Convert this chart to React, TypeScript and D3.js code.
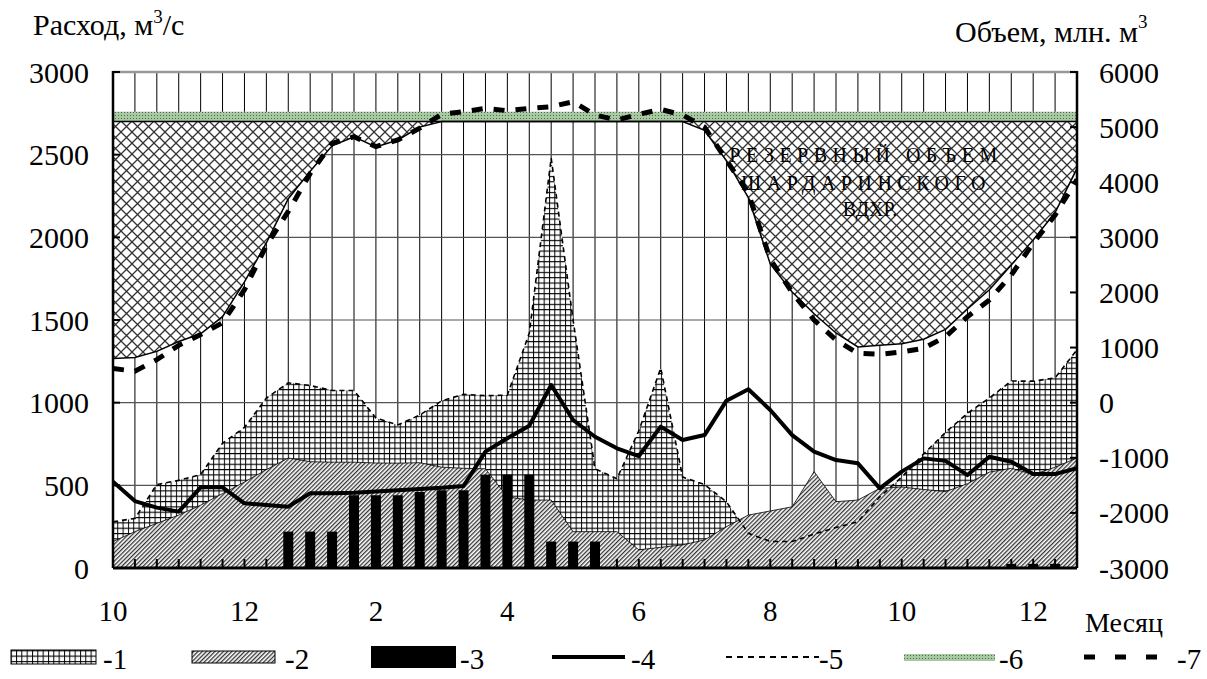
import React from "react";
import * as d3 from "d3";

// decade index 0..44 (Oct, 1st decade -> Dec of next year, 3rd decade)
const monthLabels = ["10", "12", "2", "4", "6", "8", "10", "12"];
const monthDecade = [0, 6, 12, 18, 24, 30, 36, 42];

// 1 - inflow (m3/s)
const inflow = [280, 300, 505, 530, 565, 755, 850, 1028, 1120, 1104, 1074, 1074, 907, 865, 925, 1011, 1051, 1042, 1046, 1420, 2480, 1500, 600, 540, 830, 1210, 550, 505, 400, 210, 160, 160, 205, 245, 280, 430, 550, 690, 820, 936, 1028, 1131, 1130, 1150, 1320];
// 2 - hatched flow (m3/s)
const flow2 = [160, 220, 270, 320, 380, 450, 520, 595, 665, 643, 640, 640, 635, 634, 637, 610, 603, 600, 430, 411, 411, 220, 220, 220, 110, 125, 140, 170, 250, 320, 345, 370, 583, 401, 411, 482, 490, 475, 462, 510, 580, 603, 565, 610, 665];
// 3 - bars (m3/s)
const bars = [0, 0, 0, 0, 0, 0, 0, 0, 220, 220, 220, 440, 440, 440, 460, 470, 470, 565, 565, 565, 160, 160, 160, 0, 0, 0, 0, 0, 0, 0, 0, 0, 0, 0, 0, 0, 0, 0, 0, 0, 0, 25, 25, 25, 0];
// 4 - release (m3/s)
const release = [522, 405, 365, 341, 488, 488, 391, 381, 371, 452, 452, 455, 462, 470, 478, 485, 496, 704, 785, 860, 1107, 895, 794, 724, 677, 855, 774, 804, 1012, 1081, 956, 804, 704, 653, 633, 482, 583, 663, 648, 562, 673, 643, 568, 568, 603];
// reservoir volume, lower edge of reserve (mln m3)
const volume = [800, 820, 930, 1110, 1250, 1560, 2190, 2900, 3700, 4200, 4660, 4826, 4640, 4766, 5000, 5100, 5100, 5100, 5100, 5100, 5100, 5100, 5100, 5100, 5100, 5100, 5100, 4940, 4390, 3720, 2516, 2008, 1614, 1264, 1010, 1040, 1070, 1150, 1330, 1700, 2050, 2500, 2950, 3450, 4250];
// 7 - volume, second variant (mln m3)
const volume7 = [620, 570, 780, 1040, 1235, 1450, 2050, 2850, 3470, 4160, 4705, 4826, 4645, 4766, 4980, 5232, 5280, 5340, 5298, 5340, 5370, 5461, 5220, 5129, 5232, 5322, 5220, 5000, 4400, 3800, 2600, 2000, 1500, 1137, 895, 877, 919, 986, 1197, 1560, 1863, 2317, 2892, 3405, 4050];
// 6 - band of normal level (mln m3)
const bandLevel = [5100, 5280];

const leftTicks = [0, 500, 1000, 1500, 2000, 2500, 3000];
const rightTicks = [-3000, -2000, -1000, 0, 1000, 2000, 3000, 4000, 5000, 6000];

const W = 1207;
const H = 679;
const X0 = 113, X1 = 1077, Y0 = 72, Y1 = 568;
const FONT = "Liberation Serif, Tinos, Times New Roman, DejaVu Serif, serif";

export default function App() {
  const idx = d3.range(inflow.length);
  const x = d3.scaleLinear().domain([0, 44]).range([X0, X1]);
  const y = d3.scaleLinear().domain([0, 3000]).range([Y1, Y0]);
  const yR = d3.scaleLinear().domain([-3000, 6000]).range([Y1, Y0]);

  const areaL = (vals: number[]) =>
    d3.area<number>().x((i) => x(i)).y0(y(0)).y1((i) => y(vals[i]))(idx) || "";
  const lineL = (vals: number[]) =>
    d3.line<number>().x((i) => x(i)).y((i) => y(vals[i]))(idx) || "";
  const lineR = (vals: number[]) =>
    d3.line<number>().x((i) => x(i)).y((i) => yR(vals[i]))(idx) || "";
  const reserve =
    d3.area<number>().x((i) => x(i)).y0(yR(bandLevel[0])).y1((i) => yR(volume[i]))(idx) || "";

  const barW = 10;

  return (
    <svg width={W} height={H} style={{ position: "absolute", left: 0, top: 0, background: "#fff" }} fontFamily={FONT}>
      <defs>
        <pattern id="grid" width={5.33} height={5.33} patternUnits="userSpaceOnUse">
          <rect width={5.33} height={5.33} fill="#fff" />
          <path d="M0,0.5 H5.33 M0.5,0 V5.33" stroke="#000" strokeWidth={1} />
        </pattern>
        <pattern id="diag" width={3} height={10} patternUnits="userSpaceOnUse" patternTransform="rotate(45)">
          <rect width={3} height={10} fill="#fff" />
          <rect width={1.3} height={10} fill="#333" />
        </pattern>
        <pattern id="diamond" width={11} height={11} patternUnits="userSpaceOnUse">
          <rect width={11} height={11} fill="#fff" />
          <path d="M0,0 L11,11 M11,0 L0,11" stroke="#333" strokeWidth={1.3} />
        </pattern>
        <pattern id="dots" width={3} height={3} patternUnits="userSpaceOnUse">
          <rect width={3} height={3} fill="#a9c9a2" />
          <rect x={1} y={1} width={1} height={1} fill="#4f6a4a" />
        </pattern>
        <clipPath id="plot">
          <rect x={X0} y={Y0} width={X1 - X0} height={Y1 - Y0} />
        </clipPath>
      </defs>

      {/* gridlines */}
      <g>
        {idx.slice(1, -1).map((i) => (
          <line key={"v" + i} x1={x(i)} x2={x(i)} y1={Y0} y2={Y1} stroke="#000" strokeWidth={1} />
        ))}
        {leftTicks.slice(1, -1).map((t) => (
          <line key={"h" + t} x1={X0} x2={X1} y1={y(t)} y2={y(t)} stroke="#555" strokeWidth={1.2} />
        ))}
      </g>

      <g clipPath="url(#plot)">
        <path d={areaL(inflow)} fill="url(#grid)" />
        <path d={areaL(flow2)} fill="url(#diag)" stroke="#000" strokeWidth={0.8} />
        <path d={reserve} fill="url(#diamond)" />
        <rect
          x={X0}
          width={X1 - X0}
          y={yR(bandLevel[1])}
          height={yR(bandLevel[0]) - yR(bandLevel[1])}
          fill="url(#dots)"
        />
        {idx.filter((i) => bars[i] > 0).map((i) => (
          <rect key={"b" + i} x={x(i) - barW / 2} width={barW} y={y(bars[i])} height={y(0) - y(bars[i])} fill="#000" />
        ))}
        <line x1={X0} x2={X1} y1={yR(bandLevel[0])} y2={yR(bandLevel[0])} stroke="#000" strokeWidth={1.5} />
        <path d={lineR(volume)} fill="none" stroke="#000" strokeWidth={1.5} />
        <path d={lineL(inflow)} fill="none" stroke="#000" strokeWidth={1.6} strokeDasharray="5,4" />
        <path d={lineL(release)} fill="none" stroke="#000" strokeWidth={4} strokeLinejoin="round" />
        <path d={lineR(volume7)} fill="none" stroke="#000" strokeWidth={5} strokeDasharray="11,11" />
      </g>

      {/* frame and axes */}
      <line x1={X0} x2={X1} y1={Y0} y2={Y0} stroke="#999" strokeWidth={2.5} />
      <line x1={X0} x2={X0} y1={Y0 - 1} y2={Y1} stroke="#000" strokeWidth={2.5} />
      <line x1={X1} x2={X1} y1={Y0 - 1} y2={Y1} stroke="#000" strokeWidth={2.5} />
      <line x1={X0} x2={X1} y1={Y1} y2={Y1} stroke="#000" strokeWidth={3} />
      {leftTicks.map((t) => (
        <line key={"lt" + t} x1={X0} x2={X0 + 7} y1={y(t)} y2={y(t)} stroke="#000" strokeWidth={2} />
      ))}
      {rightTicks.map((t) => (
        <line key={"rt" + t} x1={X1 - 7} x2={X1} y1={yR(t)} y2={yR(t)} stroke="#000" strokeWidth={2} />
      ))}
      {idx.slice(1, -1).map((i) => (
        <line key={"xt" + i} x1={x(i)} x2={x(i)} y1={Y1 - 9} y2={Y1} stroke="#000" strokeWidth={2} />
      ))}

      {/* tick labels */}
      <g fontSize={30} fill="#000">
        {leftTicks.map((t) => (
          <text key={"ll" + t} x={89} y={y(t)} textAnchor="end" dominantBaseline="central">
            {t}
          </text>
        ))}
        {rightTicks.map((t) => (
          <text key={"rl" + t} x={1099} y={yR(t)} textAnchor="start" dominantBaseline="central">
            {t}
          </text>
        ))}
        <text x={33} y={35}>
          Расход, м<tspan dy={-12} fontSize={19}>3</tspan>
          <tspan dy={12}>/с</tspan>
        </text>
        <text x={955} y={42}>
          Объем, млн. м<tspan dy={-14} fontSize={19}>3</tspan>
        </text>
      </g>
      <g fontSize={29} fill="#000">
        {monthLabels.map((m, j) => (
          <text key={"ml" + j} x={x(monthDecade[j])} y={621} textAnchor="middle">
            {m}
          </text>
        ))}
        <text x={1085} y={632} fontSize={28}>Месяц</text>
      </g>

      {/* reserve label */}
      <g fontSize={20} textAnchor="middle" fill="#000">
        <text x={866} y={162} letterSpacing={5.5}>РЕЗЕРВНЫЙ ОБЪЕМ</text>
        <text x={866} y={190} letterSpacing={5.5}>ШАРДАРИНСКОГО</text>
        <text x={870} y={216}>ВДХР.</text>
      </g>

      {/* legend */}
      <g fontSize={29} fill="#000">
        <rect x={11} y={650} width={85} height={14} fill="url(#grid)" stroke="#000" strokeWidth={1} />
        <text x={103} y={669}>-1</text>
        <rect x={192} y={651} width={83} height={12} fill="url(#diag)" stroke="#000" strokeWidth={1} />
        <text x={285} y={669}>-2</text>
        <rect x={371} y={646} width={85} height={22} fill="#000" />
        <text x={460} y={669}>-3</text>
        <line x1={552} x2={625} y1={657} y2={657} stroke="#000" strokeWidth={4} />
        <text x={631} y={669}>-4</text>
        <line x1={726} x2={819} y1={657} y2={657} stroke="#000" strokeWidth={2} strokeDasharray="6,5" />
        <text x={819} y={669}>-5</text>
        <rect x={904} y={654} width={91} height={7} fill="url(#dots)" />
        <text x={999} y={669}>-6</text>
        <line x1={1084} x2={1158} y1={657} y2={657} stroke="#000" strokeWidth={5} strokeDasharray="11,20" />
        <text x={1177} y={669}>-7</text>
      </g>
    </svg>
  );
}
